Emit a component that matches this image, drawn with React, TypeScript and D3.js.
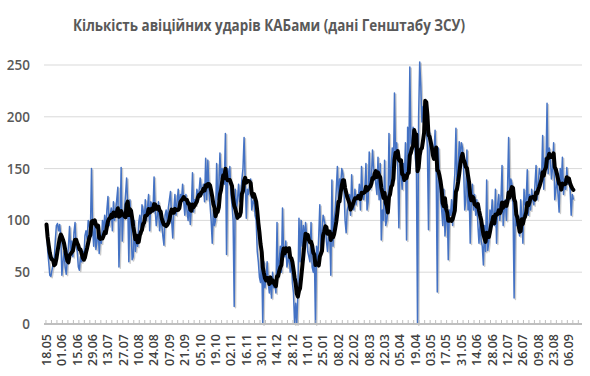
import React from "react";
import * as d3 from "d3";

const chartTitle = "Кількість авіційних ударів КАБами (дані Генштабу ЗСУ)";

const dateLabels = [
  "18.05", "01.06", "15.06", "29.06", "13.07", "27.07", "10.08", "24.08", "07.09",
  "21.09", "05.10", "19.10", "02.11", "16.11", "30.11", "14.12", "28.12", "11.01",
  "25.01", "08.02", "22.02", "08.03", "22.03", "05.04", "19.04", "03.05", "17.05",
  "31.05", "14.06", "28.06", "12.07", "26.07", "09.08", "23.08", "06.09",
];
const labelStep = 14;

const yTicks = [0, 50, 100, 150, 200, 250];

// daily number of KAB strikes, from 18.05.2024
const dailyStrikes = [
  96, 72, 60, 47, 46, 52, 58, 62, 80, 95, 97, 90, 96, 85,
  47, 60, 70, 55, 48, 62, 75, 94, 70, 80, 65, 88, 98, 75,
  70, 55, 52, 65, 60, 70, 62, 85, 90, 82, 100, 95, 88, 150,
  92, 75, 100, 72, 80, 95, 68, 85, 78, 100, 90, 105, 88, 110,
  123, 95, 105, 112, 90, 118, 100, 110, 120, 132, 55, 95, 151, 80,
  105, 110, 125, 141, 115, 60, 120, 95, 62, 65, 100, 70, 85, 75,
  98, 105, 88, 115, 110, 95, 120, 100, 112, 125, 90, 118, 115, 108,
  142, 110, 95, 105, 118, 90, 100, 96, 85, 76, 105, 110, 98, 112,
  120, 128, 100, 83, 110, 125, 105, 118, 130, 112, 125, 120, 135, 118,
  105, 125, 110, 100, 118, 96, 112, 146, 108, 120, 115, 130, 125, 128,
  141, 130, 125, 135, 118, 160, 120, 158, 130, 115, 100, 78, 110, 95,
  100, 155, 120, 130, 165, 140, 150, 145, 135, 184, 67, 150, 140, 152,
  125, 115, 100, 17, 130, 110, 120, 135, 118, 125, 140, 150, 180, 140,
  102, 130, 125, 135, 140, 110, 118, 120, 105, 100, 70, 60, 45, 40,
  70, 0, 60, 35, 45, 60, 40, 30, 45, 25, 50, 35, 40, 30,
  98, 45, 60, 75, 50, 112, 70, 65, 80, 55, 60, 70, 50, 65,
  40, 30, 0, 20, 0, 30, 102, 60, 100, 75, 95, 80, 98, 85,
  70, 65, 60, 98, 55, 50, 70, 0, 75, 60, 85, 115, 70, 90,
  105, 100, 95, 80, 70, 85, 90, 47, 139, 75, 100, 110, 130, 152,
  120, 140, 135, 150, 145, 130, 100, 88, 110, 115, 125, 105, 144, 120,
  110, 130, 115, 125, 120, 135, 110, 152, 125, 120, 130, 155, 110, 118,
  166, 130, 140, 168, 150, 145, 135, 125, 161, 120, 155, 81, 110, 100,
  158, 95, 100, 110, 184, 130, 150, 170, 140, 223, 160, 175, 150, 93,
  160, 145, 130, 155, 140, 175, 81, 190, 150, 248, 175, 170, 190, 187,
  160, 150, 0, 200, 253, 230, 195, 210, 205, 215, 190, 170, 91, 185,
  175, 170, 160, 165, 187, 150, 31, 170, 140, 120, 110, 95, 130, 85,
  100, 115, 62, 110, 105, 120, 95, 130, 145, 189, 130, 150, 176, 160,
  175, 170, 150, 110, 120, 168, 110, 130, 78, 120, 135, 110, 125, 105,
  120, 95, 78, 100, 80, 75, 57, 95, 70, 139, 71, 80, 110, 100,
  120, 105, 95, 130, 78, 115, 125, 100, 120, 153, 95, 110, 120, 100,
  130, 180, 120, 140, 135, 115, 25, 110, 95, 100, 93, 85, 120, 105,
  78, 130, 115, 120, 149, 105, 125, 110, 130, 120, 115, 135, 153, 120,
  135, 150, 145, 140, 182, 130, 160, 150, 213, 145, 170, 160, 140, 150,
  175, 120, 130, 140, 125, 108, 150, 135, 161, 125, 140, 130, 151, 135,
  140, 130, 105, 125, 120,
];

const maWindow = 7;
const tickEvery = 5;

export default function App() {
  const W = 590;
  const H = 376;
  const axisLeft = 44;
  const axisRight = 582;
  const lastLabelIdx = (dateLabels.length - 1) * labelStep;
  const x = d3.scaleLinear().domain([0, lastLabelIdx]).range([46.5, 569]);
  const y = d3.scaleLinear().domain([0, 250]).range([324, 65]);
  const dayW = x(1) - x(0);

  const ma = dailyStrikes.map((_, i) =>
    d3.mean(dailyStrikes.slice(Math.max(0, i - maWindow + 1), i + 1)) as number
  );

  const line = d3
    .line<number>()
    .x((_, i) => x(i))
    .y((d) => y(d));

  const ticks: number[] = [];
  for (let i = 0; x(i) - dayW / 2 <= axisRight; i += tickEvery) ticks.push(x(i) - dayW / 2);

  const font = "'Open Sans', 'Noto Sans', sans-serif";

  return (
    <svg
      width={W}
      height={H}
      style={{ position: "absolute", left: 0, top: 0, background: "#fff" }}
    >
      <text
        x={269}
        y={31}
        textAnchor="middle"
        fontFamily={font}
        fontWeight={700}
        fontSize={16.5}
        fill="#595959"
        textLength={392}
        lengthAdjust="spacingAndGlyphs"
      >
        {chartTitle}
      </text>

      {yTicks.map((t) => (
        <g key={t}>
          {t > 0 && (
            <line x1={axisLeft} x2={axisRight} y1={y(t)} y2={y(t)} stroke="#D9D9D9" strokeWidth={1} />
          )}
          <text
            x={30}
            y={y(t) + 5}
            textAnchor="end"
            fontFamily={font}
            fontWeight={600}
            fontSize={13.5}
            fill="#595959"
          >
            {t}
          </text>
        </g>
      ))}

      <path
        d={line(dailyStrikes) || ""}
        fill="none"
        stroke="#8c8c8c"
        strokeOpacity={0.45}
        strokeWidth={1.5}
        strokeLinejoin="round"
        transform="translate(1.3,1.3)"
      />
      <path
        d={line(dailyStrikes) || ""}
        fill="none"
        stroke="#4472C4"
        strokeWidth={1.5}
        strokeLinejoin="round"
      />
      <path
        d={line(ma) || ""}
        fill="none"
        stroke="#000"
        strokeWidth={4}
        strokeLinejoin="round"
        strokeLinecap="round"
      />

      <line x1={axisLeft} x2={axisRight} y1={y(0)} y2={y(0)} stroke="#BFBFBF" strokeWidth={2} />
      {ticks.map((tx, i) => (
        <line key={i} x1={tx} x2={tx} y1={y(0)} y2={y(0) - 4} stroke="#BFBFBF" strokeWidth={1} />
      ))}

      {dateLabels.map((lab, i) => {
        const lx = x(i * labelStep);
        return (
          <text
            key={lab}
            transform={`translate(${lx},334) rotate(-90)`}
            textAnchor="end"
            dy="0.35em"
            fontFamily={font}
            fontWeight={600}
            fontSize={12.5}
            fill="#404040"
          >
            {lab}
          </text>
        );
      })}
    </svg>
  );
}
